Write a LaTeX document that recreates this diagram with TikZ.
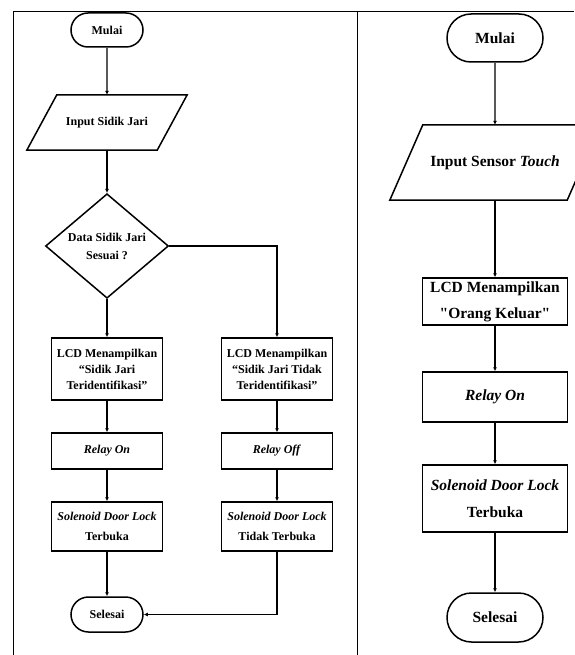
\documentclass[tikz,border=0pt]{standalone}
\usepackage{fontspec}
\setmainfont{Liberation Serif}
\usetikzlibrary{shapes.geometric, shapes.misc, arrows.meta}
\tikzset{
    kecil/.style={font=\bfseries\fontsize{12}{16}\selectfont},
    besar/.style={font=\bfseries\fontsize{15.5}{26}\selectfont},
    garis/.style={line width=1.5pt},
    term/.style={draw, rounded rectangle, garis, inner sep=0pt, align=center},
    io/.style={rectangle, inner sep=0pt, align=center},
    cek/.style={draw, diamond, garis, inner sep=0pt, align=center},
    proc/.style={draw, rectangle, garis, inner sep=0pt, align=center},
    arrow/.style={line width=1.3pt, -{Latex[length=4pt, width=4pt]}}
}

\begin{document}
\begin{tikzpicture}[x=1pt, y=1pt]
\useasboundingbox (0,0) rectangle (574,-655);
% bingkai tabel
\draw[line width=0.8pt] (13,-655) -- (13,-11) -- (574,-11);
\draw[line width=0.8pt] (357,-11) -- (357,-655);

% alur kiri
\node[term, kecil, minimum width=72pt, minimum height=34pt] (mulai1) at (107,-30) {Mulai};
\node[io, kecil, minimum width=130pt, minimum height=55pt, below of=mulai1, node distance=92.5pt] (input1) {Input Sidik Jari};
\draw[garis] ([xshift=15pt]input1.north west) -- ([xshift=15pt]input1.north east) -- ([xshift=-15pt]input1.south east) -- ([xshift=-15pt]input1.south west) -- cycle;
\node[cek, kecil, font=\bfseries\fontsize{12}{18}\selectfont, minimum width=123pt, minimum height=102pt, below of=input1, node distance=123.5pt] (data1) {Data Sidik Jari\\Sesuai ?};
\node[proc, kecil, minimum width=111pt, minimum height=62pt, below of=data1, node distance=123pt] (lcd1) {LCD Menampilkan\\``Sidik Jari\\Teridentifikasi''};
\node[proc, kecil, minimum width=111pt, minimum height=36pt, below of=lcd1, node distance=82pt] (relay1) {\textit{Relay On}};
\node[proc, kecil, font=\bfseries\fontsize{12}{20}\selectfont, minimum width=111pt, minimum height=49pt, below of=relay1, node distance=75.5pt] (sol1) {\textit{Solenoid Door Lock}\\Terbuka};
\node[term, kecil, minimum width=72pt, minimum height=35pt, below of=sol1, node distance=88pt] (selesai1) {Selesai};
\node[proc, kecil, minimum width=111pt, minimum height=62pt, right of=lcd1, node distance=170pt] (lcd2) {LCD Menampilkan\\``Sidik Jari Tidak\\Teridentifikasi''};
\node[proc, kecil, minimum width=111pt, minimum height=36pt, below of=lcd2, node distance=82pt] (relay2) {\textit{Relay Off}};
\node[proc, kecil, font=\bfseries\fontsize{12}{20}\selectfont, minimum width=111pt, minimum height=49pt, below of=relay2, node distance=75.5pt] (sol2) {\textit{Solenoid Door Lock}\\Tidak Terbuka};
\draw[arrow] (mulai1) -- (input1);
\draw[arrow] (input1) -- (data1);
\draw[arrow] (data1) -- (lcd1);
\draw[arrow] (data1.east) -| (lcd2.north);
\draw[arrow] (lcd1) -- (relay1);
\draw[arrow] (relay1) -- (sol1);
\draw[arrow] (sol1) -- (selesai1);
\draw[arrow] (lcd2) -- (relay2);
\draw[arrow] (relay2) -- (sol2);
\draw[arrow] (sol2.south) |- (selesai1.east);

% alur kanan
\node[term, besar, minimum width=96pt, minimum height=48pt] (mulai2) at (495,-38) {Mulai};
\node[io, besar, minimum width=177pt, minimum height=75pt, below of=mulai2, node distance=124.5pt] (input2) {Input Sensor \textit{Touch}};
\draw[garis] ([xshift=16.5pt]input2.north west) -- ([xshift=16.5pt]input2.north east) -- ([xshift=-16.5pt]input2.south east) -- ([xshift=-16.5pt]input2.south west) -- cycle;
\node[proc, besar, minimum width=145pt, minimum height=47pt, below of=input2, node distance=139pt] (lcd3) {LCD Menampilkan\\\textquotedbl Orang Keluar\textquotedbl};
\node[proc, besar, minimum width=145pt, minimum height=50pt, below of=lcd3, node distance=95.5pt] (relay3) {\textit{Relay On}};
\node[proc, besar, font=\bfseries\fontsize{15.5}{27}\selectfont, minimum width=145pt, minimum height=67pt, below of=relay3, node distance=101.5pt] (sol3) {\textit{Solenoid Door Lock}\\Terbuka};
\node[term, besar, minimum width=96pt, minimum height=49pt, below of=sol3, node distance=119pt] (selesai2) {Selesai};
\draw[arrow] (mulai2) -- (input2);
\draw[arrow] (input2) -- (lcd3);
\draw[arrow] (lcd3) -- (relay3);
\draw[arrow] (relay3) -- (sol3);
\draw[arrow] (sol3) -- (selesai2);
\end{tikzpicture}
\end{document}
